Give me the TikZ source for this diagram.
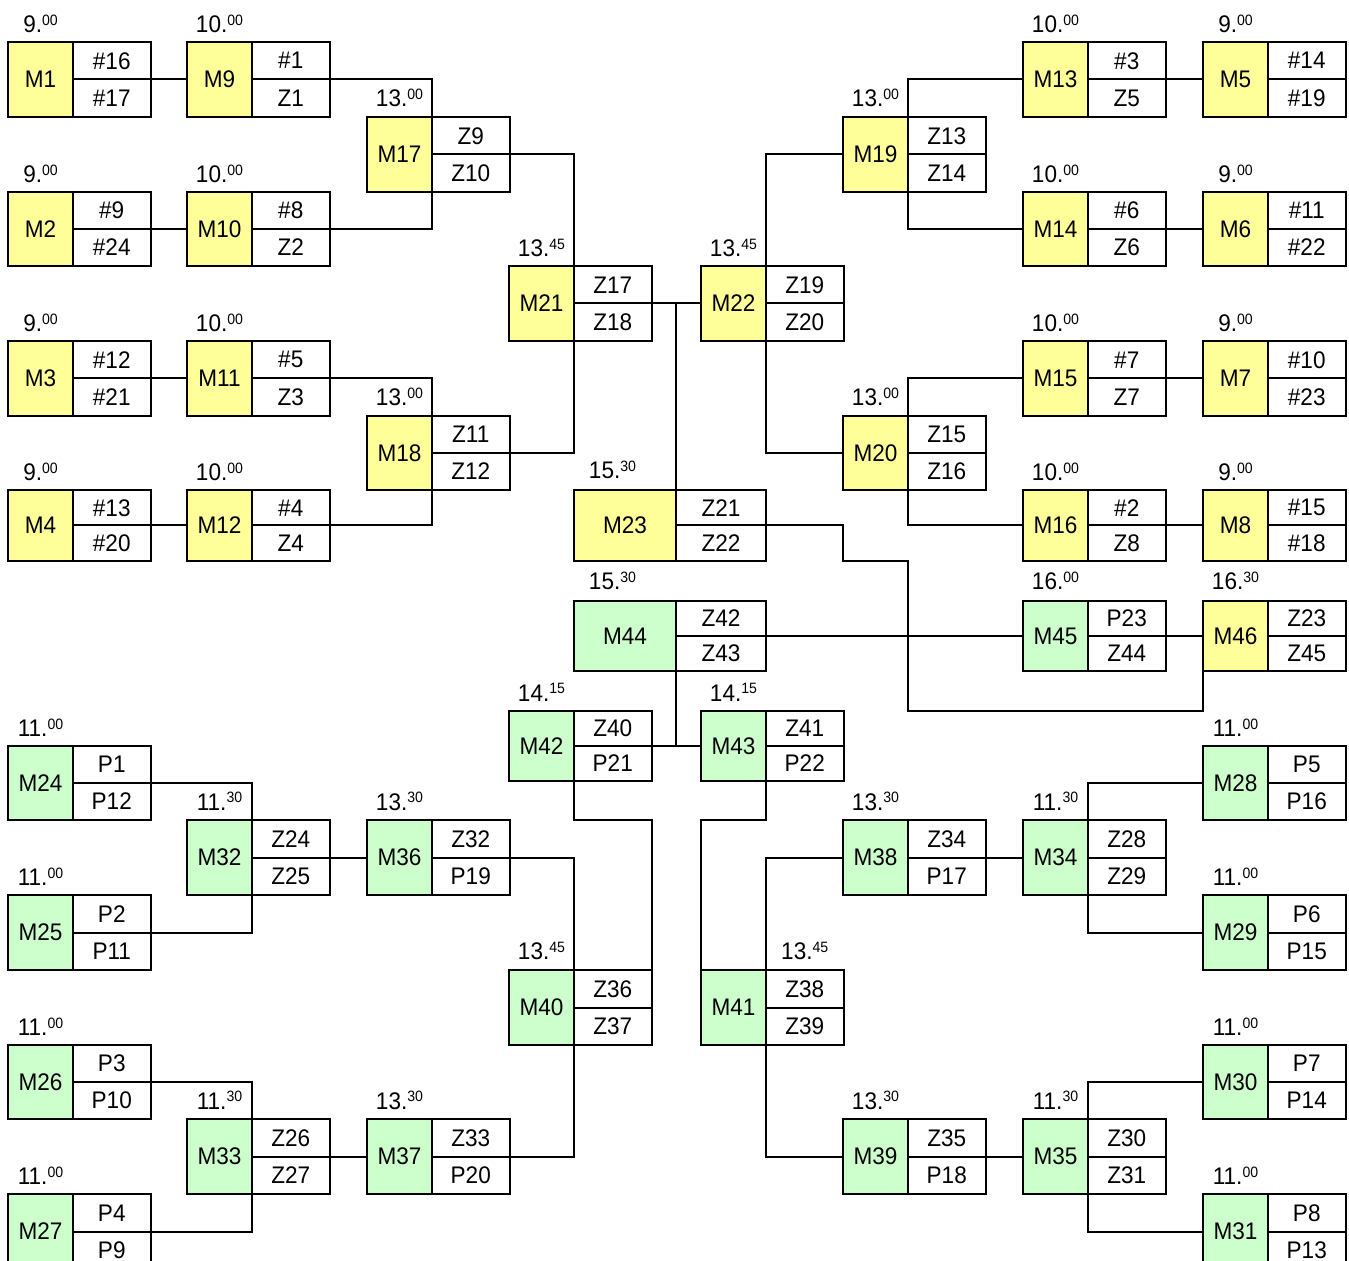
\documentclass[tikz,border=0pt]{standalone}
\usepackage{fontspec}
\setmainfont{Liberation Sans}[FakeStretch=0.94]
\definecolor{yel}{HTML}{FFFF99}
\definecolor{grn}{HTML}{CCFFCC}
\newcommand\tm[2]{#1.\raisebox{3.6pt}{\fontsize{7.5}{8}\selectfont #2}}
% #1 name, #2 x, #3 y, #4 colour width, #5 cell width, #6 height, #7 fill, #8 top, #9 bottom
\newcommand\mb[9]{%
  \node[mcol, fill=#7, minimum width=#4*0.5pt, minimum height=#6*0.5pt, anchor=north west] (#1) at (#2,#3) {#1};
  \node[cell, minimum width=#5*0.5pt, minimum height=#6*0.25pt, anchor=north west] (#1a) at (#1.north east) {#8};
  \node[cell, minimum width=#5*0.5pt, minimum height=#6*0.25pt, anchor=north west] (#1b) at (#1a.south west) {#9};
}
% time label: #1 name, #2 anchor point, #3 raise (pt), #4 text
\newcommand\tl[4]{\node[tlab, anchor=base, yshift=#3] (t#1) at (#2) {#4};}
\tikzset{
  mcol/.style={draw, inner sep=0pt, outer sep=0pt, font=\fontsize{12}{14}\selectfont},
  cell/.style={draw, fill=white, inner sep=0pt, outer sep=0pt, font=\fontsize{12}{14}\selectfont},
  tlab/.style={inner sep=0pt, outer sep=0pt, font=\fontsize{12}{14}\selectfont},
  conn/.style={draw}
}
\begin{document}
\begin{tikzpicture}[x=0.5pt, y=-0.5pt, line width=1pt]
\path[use as bounding box] (0,0) rectangle (1349,1261);
\clip (0,0) rectangle (1349,1261);
% ---- upper half
\mb{M1}{8}{42}{65}{77.5}{75}{yel}{\#16}{\#17}
\mb{M2}{8}{192}{65}{77.5}{74}{yel}{\#9}{\#24}
\mb{M3}{8}{341}{65}{77.5}{75}{yel}{\#12}{\#21}
\mb{M4}{8}{490}{65}{77.5}{71}{yel}{\#13}{\#20}
\mb{M9}{187}{42}{65}{77.5}{75}{yel}{\#1}{Z1}
\mb{M10}{187}{192}{65}{77.5}{74}{yel}{\#8}{Z2}
\mb{M11}{187}{341}{65}{77.5}{75}{yel}{\#5}{Z3}
\mb{M12}{187}{490}{65}{77.5}{71}{yel}{\#4}{Z4}
\mb{M17}{367}{117}{65}{77.5}{75}{yel}{Z9}{Z10}
\mb{M18}{367}{416}{65}{77.5}{74}{yel}{Z11}{Z12}
\mb{M21}{509}{266}{65}{77.5}{75}{yel}{Z17}{Z18}
\mb{M22}{701}{266}{65}{77.5}{75}{yel}{Z19}{Z20}
\mb{M19}{843}{117}{65}{77.5}{75}{yel}{Z13}{Z14}
\mb{M20}{843}{416}{65}{77.5}{74}{yel}{Z15}{Z16}
\mb{M13}{1023}{42}{65}{77.5}{75}{yel}{\#3}{Z5}
\mb{M14}{1023}{192}{65}{77.5}{74}{yel}{\#6}{Z6}
\mb{M15}{1023}{341}{65}{77.5}{75}{yel}{\#7}{Z7}
\mb{M16}{1023}{490}{65}{77.5}{71}{yel}{\#2}{Z8}
\mb{M5}{1203}{42}{65}{77.5}{75}{yel}{\#14}{\#19}
\mb{M6}{1203}{192}{65}{77.5}{74}{yel}{\#11}{\#22}
\mb{M7}{1203}{341}{65}{77.5}{75}{yel}{\#10}{\#23}
\mb{M8}{1203}{490}{65}{77.5}{71}{yel}{\#15}{\#18}
\mb{M23}{574}{490}{102}{90}{71}{yel}{Z21}{Z22}
% ---- middle
\mb{M44}{574}{601}{102}{90}{70}{grn}{Z42}{Z43}
\mb{M45}{1023}{601}{65}{77.5}{70}{grn}{P23}{Z44}
\mb{M46}{1203}{601}{65}{77.5}{70}{yel}{Z23}{Z45}
\mb{M42}{509}{711}{65}{77.5}{70}{grn}{Z40}{P21}
\mb{M43}{701}{711}{65}{77.5}{70}{grn}{Z41}{P22}
% ---- lower half
\mb{M24}{8}{746}{65}{77.5}{74}{grn}{P1}{P12}
\mb{M25}{8}{895}{65}{77.5}{75}{grn}{P2}{P11}
\mb{M26}{8}{1045}{65}{77.5}{74}{grn}{P3}{P10}
\mb{M27}{8}{1194}{65}{77.5}{75}{grn}{P4}{P9}
\mb{M32}{187}{820}{65}{77.5}{75}{grn}{Z24}{Z25}
\mb{M33}{187}{1119}{65}{77.5}{75}{grn}{Z26}{Z27}
\mb{M36}{367}{820}{65}{77.5}{75}{grn}{Z32}{P19}
\mb{M37}{367}{1119}{65}{77.5}{75}{grn}{Z33}{P20}
\mb{M40}{509}{970}{65}{77.5}{75}{grn}{Z36}{Z37}
\mb{M41}{701}{970}{65}{77.5}{75}{grn}{Z38}{Z39}
\mb{M38}{843}{820}{65}{77.5}{75}{grn}{Z34}{P17}
\mb{M39}{843}{1119}{65}{77.5}{75}{grn}{Z35}{P18}
\mb{M34}{1023}{820}{65}{77.5}{75}{grn}{Z28}{Z29}
\mb{M35}{1023}{1119}{65}{77.5}{75}{grn}{Z30}{Z31}
\mb{M28}{1203}{746}{65}{77.5}{74}{grn}{P5}{P16}
\mb{M29}{1203}{895}{65}{77.5}{75}{grn}{P6}{P15}
\mb{M30}{1203}{1045}{65}{77.5}{74}{grn}{P7}{P14}
\mb{M31}{1203}{1194}{65}{77.5}{75}{grn}{P8}{P13}
% ---- time labels
\tl{M1}{M1.north}{4.5pt}{\tm{9}{00}}
\tl{M2}{M2.north}{4.5pt}{\tm{9}{00}}
\tl{M3}{M3.north}{4.5pt}{\tm{9}{00}}
\tl{M4}{M4.north}{4.5pt}{\tm{9}{00}}
\tl{M9}{M9.north}{4.5pt}{\tm{10}{00}}
\tl{M10}{M10.north}{4.5pt}{\tm{10}{00}}
\tl{M11}{M11.north}{4.5pt}{\tm{10}{00}}
\tl{M12}{M12.north}{4.5pt}{\tm{10}{00}}
\tl{M17}{M17.north}{5pt}{\tm{13}{00}}
\tl{M18}{M18.north}{5pt}{\tm{13}{00}}
\tl{M21}{M21.north}{4.5pt}{\tm{13}{45}}
\tl{M22}{M22.north}{4.5pt}{\tm{13}{45}}
\tl{M19}{M19.north}{5pt}{\tm{13}{00}}
\tl{M20}{M20.north}{5pt}{\tm{13}{00}}
\tl{M13}{M13.north}{4.5pt}{\tm{10}{00}}
\tl{M14}{M14.north}{4.5pt}{\tm{10}{00}}
\tl{M15}{M15.north}{4.5pt}{\tm{10}{00}}
\tl{M16}{M16.north}{4.5pt}{\tm{10}{00}}
\tl{M5}{M5.north}{4.5pt}{\tm{9}{00}}
\tl{M6}{M6.north}{4.5pt}{\tm{9}{00}}
\tl{M7}{M7.north}{4.5pt}{\tm{9}{00}}
\tl{M8}{M8.north}{4.5pt}{\tm{9}{00}}
\node[tlab, anchor=base, xshift=19.25pt, yshift=5.85pt] (tM23) at (M23.north west) {\tm{15}{30}};
\node[tlab, anchor=base, xshift=19.25pt, yshift=5.85pt] (tM44) at (M44.north west) {\tm{15}{30}};
\tl{M45}{M45.north}{5.85pt}{\tm{16}{00}}
\tl{M46}{M46.north}{5.85pt}{\tm{16}{30}}
\tl{M42}{M42.north}{5pt}{\tm{14}{15}}
\tl{M43}{M43.north}{5pt}{\tm{14}{15}}
\tl{M24}{M24.north}{4.7pt}{\tm{11}{00}}
\tl{M25}{M25.north}{4.7pt}{\tm{11}{00}}
\tl{M26}{M26.north}{4.7pt}{\tm{11}{00}}
\tl{M27}{M27.north}{4.7pt}{\tm{11}{00}}
\tl{M32}{M32.north}{5pt}{\tm{11}{30}}
\tl{M33}{M33.north}{5pt}{\tm{11}{30}}
\tl{M36}{M36.north}{5pt}{\tm{13}{30}}
\tl{M37}{M37.north}{5pt}{\tm{13}{30}}
\tl{M40}{M40.north}{5.2pt}{\tm{13}{45}}
\tl{M41}{M41a.north}{5.2pt}{\tm{13}{45}}
\tl{M38}{M38.north}{5pt}{\tm{13}{30}}
\tl{M39}{M39.north}{5pt}{\tm{13}{30}}
\tl{M34}{M34.north}{5pt}{\tm{11}{30}}
\tl{M35}{M35.north}{5pt}{\tm{11}{30}}
\tl{M28}{M28.north}{4.7pt}{\tm{11}{00}}
\tl{M29}{M29.north}{4.7pt}{\tm{11}{00}}
\tl{M30}{M30.north}{4.7pt}{\tm{11}{00}}
\tl{M31}{M31.north}{4.7pt}{\tm{11}{00}}
% ---- connectors, upper left
\draw[conn] (M1a.south east) -- (M9.west);
\draw[conn] (M2a.south east) -- (M10.west);
\draw[conn] (M3a.south east) -- (M11.west);
\draw[conn] (M4a.south east) -- (M12.west);
\draw[conn] (M9a.south east) -| (M17.north east);
\draw[conn] (M10a.south east) -| (M17.south east);
\draw[conn] (M11a.south east) -| (M18.north east);
\draw[conn] (M12a.south east) -| (M18.south east);
\draw[conn] (M17a.south east) -| (M21.north east);
\draw[conn] (M18a.south east) -| (M21.south east);
\draw[conn] (M21a.south east) -- (M22.west);
\draw[conn] (M23.north east) |- (M22.west);
% upper right
\draw[conn] (M13a.south east) -- (M5.west);
\draw[conn] (M14a.south east) -- (M6.west);
\draw[conn] (M15a.south east) -- (M7.west);
\draw[conn] (M16a.south east) -- (M8.west);
\draw[conn] (M13.west) -| (M19.north east);
\draw[conn] (M14.west) -| (M19.south east);
\draw[conn] (M15.west) -| (M20.north east);
\draw[conn] (M16.west) -| (M20.south east);
\draw[conn] (M19.west) -| (M22.north east);
\draw[conn] (M20.west) -| (M22.south east);
% middle
\draw[conn] (M23a.south east) -| (M20.west |- M23b.south) -| (M20.east |- M43.north) -| (M46.south west);
\draw[conn] (M44a.south east) -- (M45.west);
\draw[conn] (M45a.south east) -- (M46.west);
\draw[conn] (M44.south east) -- (M44.south east |- M42a.south east);
\draw[conn] (M42a.south east) -- (M43.west);
% lower
\draw[conn] (M42.south east) |- (M40a.north east |- M36.north) -- (M40a.north east);
\draw[conn] (M43.south east) |- (M41.north west |- M38.north) -- (M41.north west);
\draw[conn] (M36a.south east) -| (M40.north east);
\draw[conn] (M37a.south east) -| (M40.south east);
\draw[conn] (M38.west) -| (M41.north east);
\draw[conn] (M39.west) -| (M41.south east);
\draw[conn] (M24a.south east) -| (M32.north east);
\draw[conn] (M25a.south east) -| (M32.south east);
\draw[conn] (M26a.south east) -| (M33.north east);
\draw[conn] (M27a.south east) -| (M33.south east);
\draw[conn] (M32a.south east) -- (M36.west);
\draw[conn] (M33a.south east) -- (M37.west);
\draw[conn] (M28.west) -| (M34.north east);
\draw[conn] (M29.west) -| (M34.south east);
\draw[conn] (M30.west) -| (M35.north east);
\draw[conn] (M31.west) -| (M35.south east);
\draw[conn] (M38a.south east) -- (M34.west);
\draw[conn] (M39a.south east) -- (M35.west);
\end{tikzpicture}
\end{document}
